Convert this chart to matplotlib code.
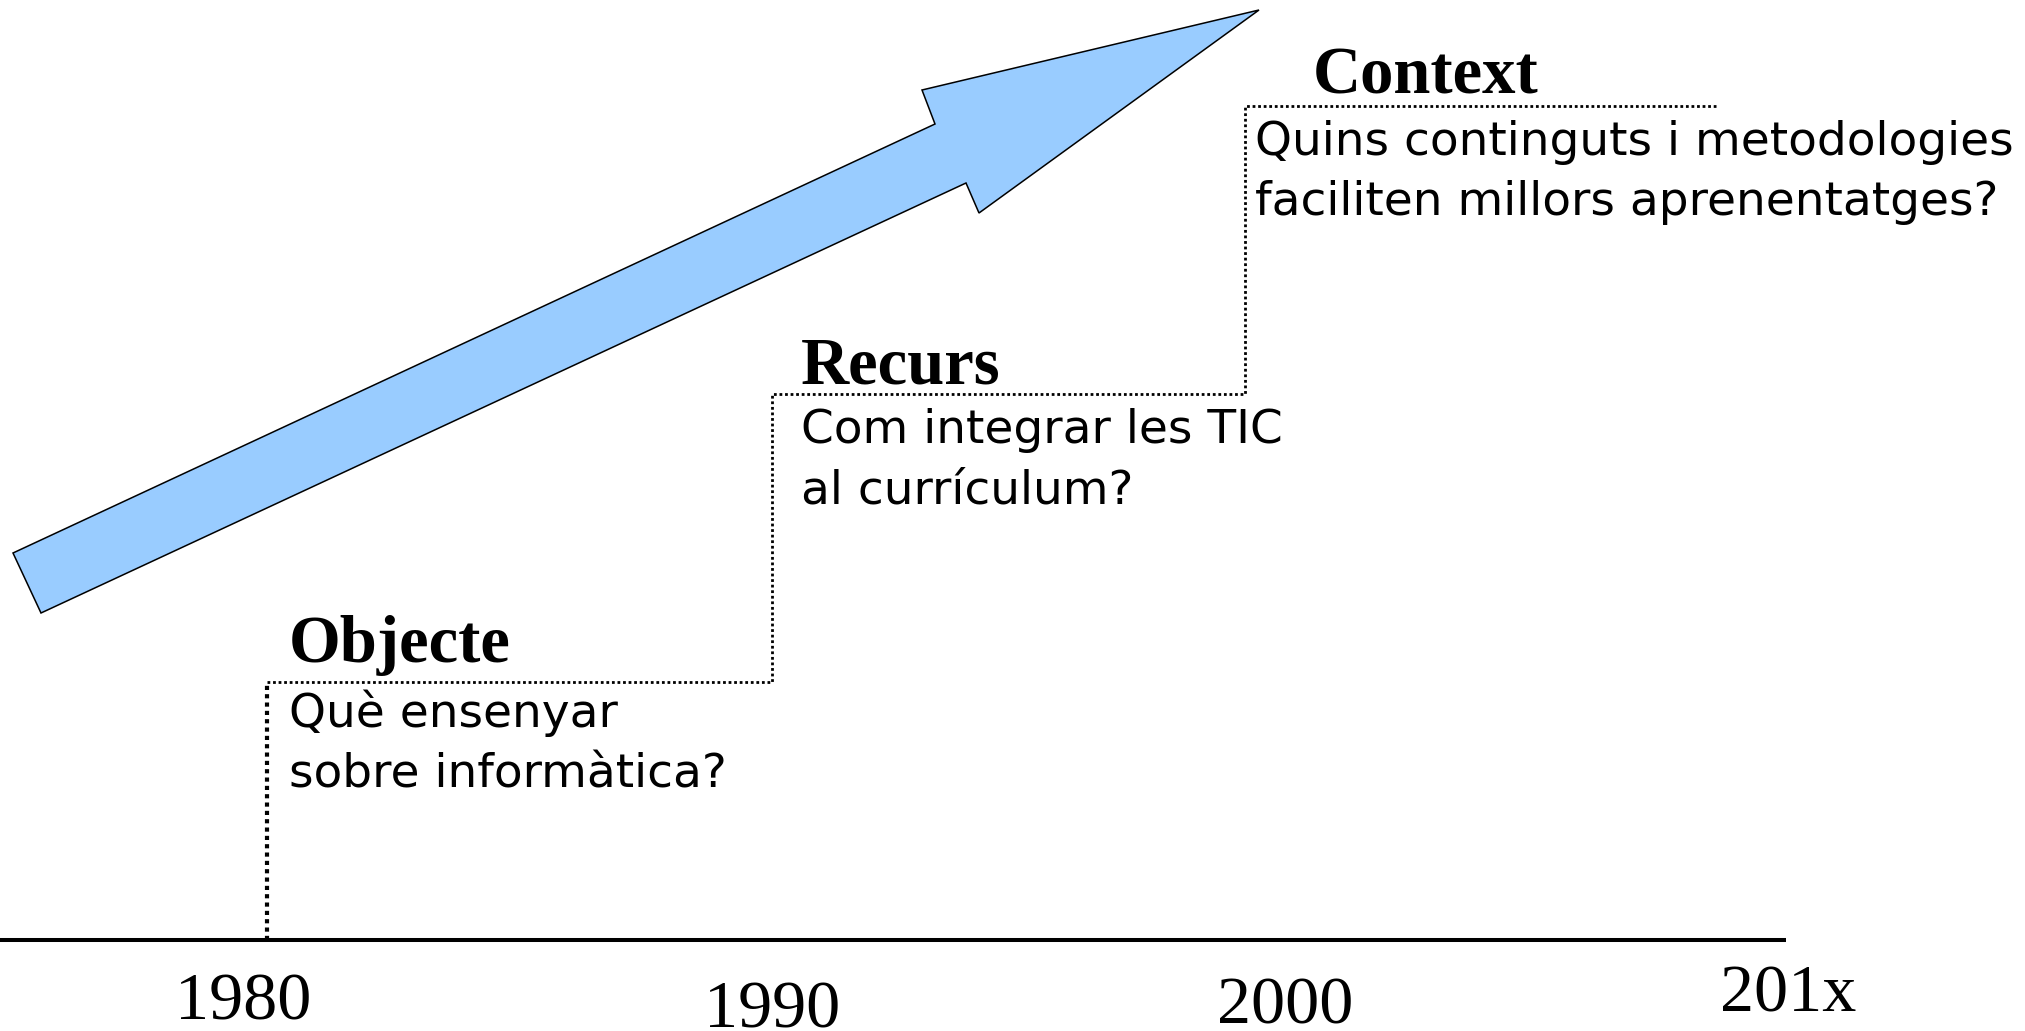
import matplotlib.pyplot as plt
from matplotlib.patches import Polygon

# Timeline labels
years = ["1980", "1990", "2000", "201x"]
year_x = [243, 772, 1285, 1788]
year_base = [1020, 1027, 1024, 1011]

# Stages
titles = ["Objecte", "Recurs", "Context"]
questions = [
    ["Què ensenyar", "sobre informàtica?"],
    ["Com integrar les TIC", "al currículum?"],
    ["Quins continguts i metodologies", "faciliten millors aprenentatges?"],
]
title_x = [289, 801, 1313]
title_base = [662, 383, 94]
quest_x = [289, 801, 1255]
quest_base = [727, 443, 155]
line_gap = 60

# Dotted staircase (pixel layout)
step_x = [267, 267, 772, 772, 1245, 1245, 1718]
step_y = [940, 682, 682, 394, 394, 106, 106]

# Big arrow outline
arrow_x = [13, 935, 922, 1259, 979, 966, 41]
arrow_y = [553, 124, 90, 10, 213, 183, 613]

fig = plt.figure(figsize=(20.25, 10.31), dpi=100)
ax = fig.add_axes([0, 0, 1, 1])
ax.set_xlim(0, 2025)
ax.set_ylim(1031, 0)
ax.axis("off")

# timeline axis
ax.plot([0, 1786], [940, 940], color="black", lw=2.9, solid_capstyle="butt")

# staircase: first riser is drawn heavier, as in the original
ax.plot(step_x[:2], step_y[:2], color="black", lw=3.0, ls=(0, (1, 1)))
ax.plot(step_x[1:], step_y[1:], color="black", lw=2.0, ls=(0, (1, 1)))

# arrow
ax.add_patch(Polygon(list(zip(arrow_x, arrow_y)), closed=True,
                     facecolor="#99ccff", edgecolor="black", lw=1.1))

serif = ["Liberation Serif", "DejaVu Serif"]
for yr, x, b in zip(years, year_x, year_base):
    ax.text(x, b, yr, family=serif, fontsize=49, ha="center", va="baseline")

for t, tx, tb, q, qx, qb in zip(titles, title_x, title_base, questions, quest_x, quest_base):
    ax.text(tx, tb, t, family=serif, fontweight="bold", fontsize=48,
            ha="left", va="baseline")
    for i, line in enumerate(q):
        ax.text(qx, qb + i * line_gap, line, family="DejaVu Sans", fontsize=33.8,
                ha="left", va="baseline")

fig.savefig("out.png", dpi=100)
